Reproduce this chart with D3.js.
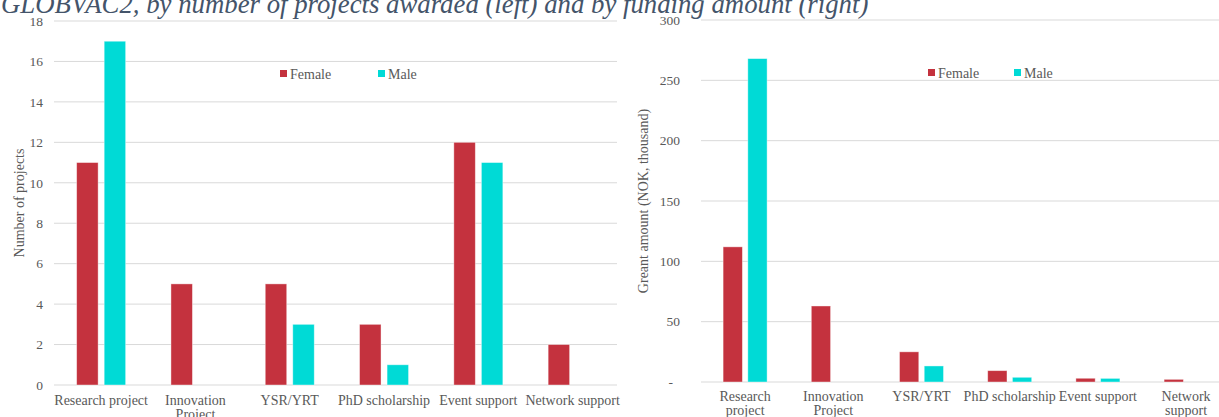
<!DOCTYPE html>
<html>
<head>
<meta charset="utf-8">
<script src="https://cdn.jsdelivr.net/npm/d3@7"></script>
<style>
  body { margin: 0; background: #fff; }
  svg { display: block; font-family: "Liberation Serif", Georgia, serif; }
</style>
</head>
<body>
<div class="chart"></div>
<script>
var categories = ["Research project", "Innovation Project", "YSR/YRT", "PhD scholarship", "Event support", "Network support"]
var series = ["Female", "Male"]
var projFemale = [11, 5, 5, 3, 12, 2]
var projMale = [17, 0, 3, 1, 11, 0]
var amountFemale = [112, 63, 25, 9.4, 3.1, 2.2]
var amountMale = [268, 0, 13.3, 3.9, 3, 0]
var leftTicks = [0, 2, 4, 6, 8, 10, 12, 14, 16, 18]
var rightTicks = [0, 50, 100, 150, 200, 250, 300]
var leftLabelLines = [["Research project"], ["Innovation", "Project"], ["YSR/YRT"], ["PhD scholarship"], ["Event support"], ["Network support"]]
var rightLabelLines = [["Research", "project"], ["Innovation", "Project"], ["YSR/YRT"], ["PhD scholarship"], ["Event support"], ["Network", "support"]]
var titleText = "GLOBVAC2, by number of projects awarded (left) and by funding amount (right)"

var width = 1219, height = 417
var colors = d3.scaleOrdinal().domain(series).range(["#C4323E", "#00DAD6"])
var textColor = "#595959", gridColor = "#D9D9D9"

var svg = d3.select(".chart").append("svg")
  .attr("width", width)
  .attr("height", height)

function drawPanel(opt) {
  var g = svg.append("g")

  var x0 = d3.scaleBand().domain(categories).range([opt.x0, opt.x0 + opt.step * categories.length])
  var x1 = d3.scaleBand().domain(series)
    .range([opt.step / 2 - opt.group / 2, opt.step / 2 + opt.group / 2])
    .paddingInner(0.22)
  var y = d3.scaleLinear().domain([0, opt.max]).range([opt.yBottom, opt.yTop])

  // gridlines
  g.append("g").selectAll("line")
    .data(opt.ticks)
    .enter().append("line")
    .attr("x1", opt.gridStart)
    .attr("x2", opt.gridEnd)
    .attr("y1", function (d) { return y(d) })
    .attr("y2", function (d) { return y(d) })
    .attr("stroke", gridColor)
    .attr("stroke-width", 1)

  // y axis labels
  var axis = d3.axisLeft(y).tickValues(opt.ticks).tickSize(0).tickPadding(0)
    .tickFormat(opt.format || d3.format("d"))
  var ax = g.append("g")
    .attr("transform", "translate(" + opt.labelRight + ",0)")
    .call(axis)
    .attr("font-family", null)
    .attr("font-size", null)
  ax.select(".domain").remove()
  ax.selectAll("text")
    .attr("fill", textColor)
    .style("font-size", "13.5px")
  if (opt.zeroShift) {
    ax.selectAll(".tick").filter(function (d) { return d === 0 })
      .select("text").attr("dx", opt.zeroShift)
  }

  // bars
  var rows = categories.map(function (c, i) {
    return { cat: c, values: [{ s: "Female", v: opt.female[i] }, { s: "Male", v: opt.male[i] }] }
  })
  var groups = g.append("g").selectAll("g")
    .data(rows)
    .enter().append("g")
    .attr("transform", function (d) { return "translate(" + x0(d.cat) + ",0)" })
  groups.selectAll("rect")
    .data(function (d) { return d.values.filter(function (e) { return e.v > 0 }) })
    .enter().append("rect")
    .attr("x", function (d) { return x1(d.s) })
    .attr("width", x1.bandwidth())
    .attr("y", function (d) { return y(d.v) })
    .attr("height", function (d) { return y(0) - y(d.v) })
    .attr("fill", function (d) { return colors(d.s) })
    .attr("stroke", "#fff")
    .attr("stroke-opacity", 0.5)
    .attr("stroke-width", 0.8)

  // category labels
  var lab = g.append("g").selectAll("text")
    .data(categories)
    .enter().append("text")
    .attr("x", function (d) { return x0(d) + x0.bandwidth() / 2 })
    .attr("y", opt.labelY)
    .attr("text-anchor", "middle")
    .attr("fill", textColor)
    .style("font-size", "14px")
  lab.selectAll("tspan")
    .data(function (d, i) { return opt.lines[i] })
    .enter().append("tspan")
    .attr("x", function () { return d3.select(this.parentNode).attr("x") })
    .attr("dy", function (d, i) { return i === 0 ? 0 : 14 })
    .text(function (d) { return d })

  // y axis title
  g.append("text")
    .attr("transform", "translate(" + opt.titleX + "," + ((opt.yTop + opt.yBottom) / 2) + ") rotate(-90)")
    .attr("text-anchor", "middle")
    .attr("fill", textColor)
    .style("font-size", "14px")
    .text(opt.yTitle)

  // legend
  var leg = g.append("g").selectAll("g")
    .data(series)
    .enter().append("g")
    .attr("transform", function (d, i) { return "translate(" + opt.legend[i] + "," + opt.legendY + ")" })
  leg.append("rect")
    .attr("x", 0).attr("y", -4)
    .attr("width", 7).attr("height", 7)
    .attr("fill", function (d) { return colors(d) })
  leg.append("text")
    .attr("x", 10).attr("y", 4.5)
    .attr("fill", textColor)
    .style("font-size", "14px")
    .text(function (d) { return d })
}

drawPanel({
  x0: 54, step: 94.3, group: 49,
  gridStart: 54, gridEnd: 617,
  yTop: 21, yBottom: 385, max: 18, ticks: leftTicks,
  labelRight: 43, labelY: 405,
  female: projFemale, male: projMale,
  lines: leftLabelLines,
  yTitle: "Number of projects", titleX: 24,
  legend: [280, 378], legendY: 74
})

drawPanel({
  x0: 701, step: 88.2, group: 44,
  gridStart: 701, gridEnd: 1219,
  yTop: 20, yBottom: 382, max: 300, ticks: rightTicks,
  labelRight: 680, labelY: 401,
  format: function (d) { return d === 0 ? "-" : d },
  zeroShift: -7,
  female: amountFemale, male: amountMale,
  lines: rightLabelLines,
  yTitle: "Greant amount (NOK, thousand)", titleX: 648,
  legend: [928, 1014], legendY: 73
})

// chart title, cut at the top as in the source
var title = svg.append("text")
  .attr("x", 1)
  .attr("y", 13)
  .attr("fill", "#44546A")
  .style("font-style", "italic")
  .style("font-size", "22px")
  .text(titleText)
var tw = title.node().getComputedTextLength()
title.style("font-size", (22 * 868 / tw) + "px")
</script>
</body>
</html>
